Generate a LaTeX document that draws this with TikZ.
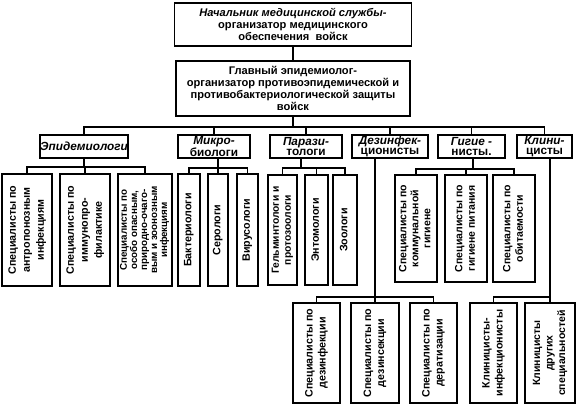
\documentclass[tikz,border=0pt]{standalone}
\usepackage{fontspec}
\setmainfont{Liberation Sans}
\usepackage{graphicx}
\newcommand{\vtext}[3]{\rotatebox{90}{\fontsize{#1}{#2}\selectfont\bfseries\begin{tabular}{@{}c@{}}#3\end{tabular}}}
\tikzset{
  bx/.style 2 args={minimum width=#1pt, minimum height=#2pt},
  box/.style={draw, line width=1.3pt, inner sep=0pt, align=center, font=\fontsize{11.1}{12}\selectfont\bfseries},
  lbox/.style={draw, line width=1.3pt, inner sep=0pt, align=center, font=\fontsize{11.8}{10.5}\selectfont\bfseries},
  vbox/.style={draw, line width=1.3pt, inner sep=0pt},
  ln/.style={line width=1.3pt}
}
\begin{document}
\begin{tikzpicture}[x=1pt,y=-1pt]
\useasboundingbox (0,0) rectangle (581,407);
% top levels
\node[box, bx={237}{43}] (top) at (293,24.5) {{\itshape Начальник медицинской службы-}\\организатор медицинского\\обеспечения\ \ войск};
\node[box, bx={234}{55}] (main) at (293,88.5) {Главный эпидемиолог-\\организатор противоэпидемической и\\противобактериологической защиты\\войск};
% level 2
\node[lbox, bx={88}{23}] (epid) at (84,146.5) {\itshape Эпидемиологи};
\node[lbox, bx={72}{23}] (micro) at (214,146.5) {{\itshape Микро-}\\биологи};
\node[lbox, bx={72}{23}] (paraz) at (306,146.5) {{\itshape Парази-}\\тологи};
\node[lbox, bx={76}{23}] (dez) at (390,146.5) {{\itshape Дезинфек-}\\ционисты};
\node[lbox, bx={67}{23}] (gig) at (471.5,146.5) {{\itshape Гигие -}\\нисты.};
\node[lbox, bx={55}{23}] (klin) at (544.5,146.5) {{\itshape Клини-}\\цисты};
% level 3
\node[vbox, bx={50}{112}] (e1) at (27,230) {\vtext{10.7}{14}{Специалисты по\\антропонозным\\инфекциям}};
\node[vbox, bx={50}{112}] (e2) at (85,230) {\vtext{10.7}{14}{Специалисты по\\иммунопро-\\филактике}};
\node[vbox, bx={54}{112}] (e3) at (145,230) {\vtext{9.8}{10}{Специалисты по\\особо опасным,\\природно-очаго-\\вым и зоонозным\\инфекциям}};
\node[vbox, bx={22}{112}] (m1) at (189,230) {\vtext{10.7}{12}{Бактериологи}};
\node[vbox, bx={20}{112}] (m2) at (218,230) {\vtext{10.7}{12}{Серологи}};
\node[vbox, bx={21}{112}] (m3) at (247.5,230) {\vtext{10.7}{12}{Вирусологи}};
\node[vbox, bx={29}{110}] (p1) at (282.5,230) {\vtext{10.3}{12}{Гельминтологи и\\протозоологи}};
\node[vbox, bx={23}{110}] (p2) at (316.5,230) {\vtext{10.7}{12}{Энтомологи}};
\node[vbox, bx={24}{110}] (p3) at (345,230) {\vtext{10.7}{12}{Зоологи}};
\node[vbox, bx={42}{107}] (g1) at (416,228.5) {\vtext{10.5}{12}{Специалисты по\\коммунальной\\гигиене}};
\node[vbox, bx={42}{107}] (g2) at (466,228.5) {\vtext{10.5}{12.5}{Специалисты по\\гигиене питания}};
\node[vbox, bx={42}{107}] (g3) at (514,228.5) {\vtext{10.5}{12.5}{Специалисты по\\обитаемости}};
% level 4
\node[vbox, bx={47}{100}] (d1) at (316.5,353) {\vtext{10.7}{13}{Специалисты по\\дезинфекции}};
\node[vbox, bx={48}{100}] (d2) at (375,353) {\vtext{10.7}{13}{Специалисты по\\дезинсекции}};
\node[vbox, bx={47}{100}] (d3) at (433.5,353) {\vtext{10.7}{13}{Специалисты по\\дератизации}};
\node[vbox, bx={47}{100}] (k1) at (493.5,353) {\vtext{10.7}{13}{Клиницисты-\\инфекционисты}};
\node[vbox, bx={50}{100}] (k2) at (550,353) {\vtext{10.5}{12.5}{Клиницисты\\других\\специальностей}};
% bus levels
\coordinate (B0) at (0,127);
\coordinate (B1) at (0,167);
\coordinate (B2) at (0,168);
\coordinate (B3) at (0,169);
\coordinate (B4) at (0,297);
\coordinate (pv) at (301,168);
\coordinate (gv) at (473,169);
% connectors
\draw[ln] (top.south) -- (main.north);
\draw[ln] (main.south) -- (main.south |- B0);
\draw[ln] (epid.north) -- (epid.north |- B0) -- (klin.north |- B0) -- (klin.north);
\draw[ln] (micro.north) -- (micro.north |- B0);
\draw[ln] (paraz.north) -- (paraz.north |- B0);
\draw[ln] (dez.north) -- (dez.north |- B0);
\draw[ln] (gig.north) -- (gig.north |- B0);
% epidemiologists
\draw[ln] (epid.south) -- (epid.south |- B1);
\draw[ln] (e1.north) -- (e1.north |- B1) -- (e3.north |- B1) -- (e3.north);
\draw[ln] (e2.north) -- (e2.north |- B1);
% microbiologists
\draw[ln] (m2.north) -- (m2.north |- micro.south);
\draw[ln] (m1.north) -- (m1.north |- B2) -- (m3.north |- B2) -- (m3.north);
% parasitologists
\draw[ln] (pv |- paraz.south) -- (pv);
\draw[ln] (p1.north) -- (p1.north |- B2) -- (p3.north |- B2) -- (p3.north);
\draw[ln] (p2.north) -- (p2.north |- B2);
% hygienists
\draw[ln] (gv |- gig.south) -- (gv);
\draw[ln] (g1.north) -- (g1.north |- B3) -- (g3.north |- B3) -- (g3.north);
\draw[ln] (g2.north) -- (g2.north |- B3);
% disinfectors
\draw[ln] (d2.north) -- (d2.north |- dez.south);
\draw[ln] (d1.north) -- (d1.north |- B4) -- (d3.north |- B4) -- (d3.north);
% clinicians
\draw[ln] (k2.north) -- (k2.north |- klin.south);
\draw[ln] (k1.north) -- (k1.north |- B4) -- (k2.north |- B4);
\end{tikzpicture}
\end{document}
